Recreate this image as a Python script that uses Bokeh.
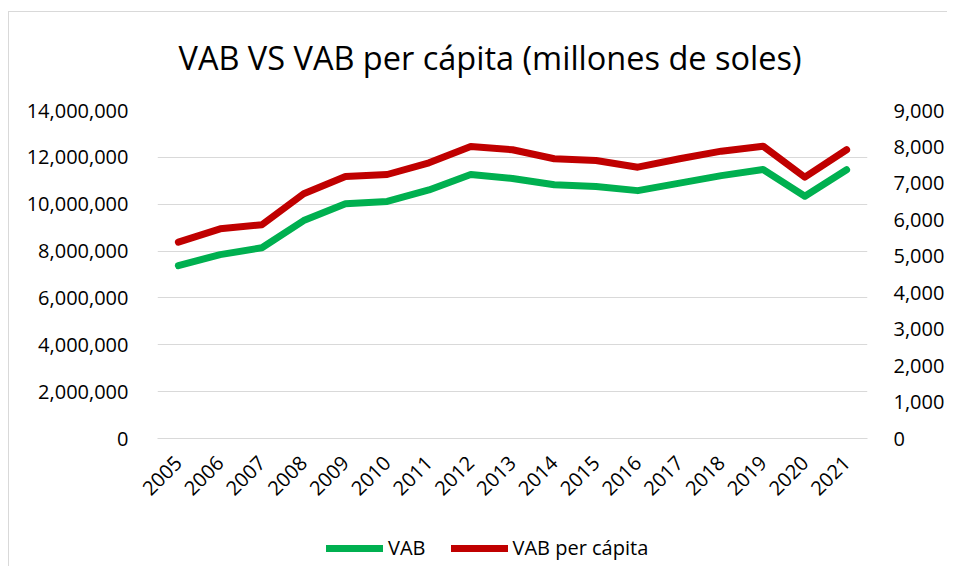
import math
from bokeh.plotting import figure
from bokeh.layouts import column
from bokeh.models import (Range1d, LinearAxis, FixedTicker, NumeralTickFormatter,
                          Legend, LegendItem, FactorRange, ColumnDataSource)
from bokeh.embed import file_html
from bokeh.resources import INLINE

years = [str(y) for y in range(2005, 2022)]
vab = [7380000, 7850000, 8140000, 9300000, 10020000, 10120000, 10610000, 11270000,
       11100000, 10830000, 10760000, 10580000, 10900000, 11220000, 11480000, 10340000, 11470000]
vab_per_capita = [5387, 5754, 5864, 6714, 7189, 7244, 7565, 8012,
                  7922, 7675, 7628, 7445, 7675, 7884, 8021, 7170, 7922]
left_ticks = [0, 2000000, 4000000, 6000000, 8000000, 10000000, 12000000, 14000000]
right_ticks = [0, 1000, 2000, 3000, 4000, 5000, 6000, 7000, 8000, 9000]
title_text = "VAB VS VAB per cápita (millones de soles)"
series_names = ["VAB", "VAB per cápita"]

FONT = "Open Sans"
GREEN = "#00B050"
RED = "#C00000"
GRID = "#d9d9d9"

src = ColumnDataSource(dict(year=years, vab=vab, pc=vab_per_capita))

# title strip
p0 = figure(width=938, height=86, x_range=FactorRange(*years, range_padding=0),
            y_range=Range1d(0, 1), x_axis_location=None, y_axis_location=None,
            min_border_left=148, min_border_right=73, min_border_top=67, min_border_bottom=0,
            output_backend="svg", toolbar_location=None)
p0.outline_line_color = None
p0.grid.visible = False
p0.title.text = title_text
p0.title.align = "left"
p0.title.offset = 21
p0.title.text_font = FONT
p0.title.text_font_size = "32.5px"
p0.title.text_font_style = "normal"
p0.title.text_color = "#000000"
p0.title.standoff = 0

# main chart
p = figure(width=938, height=422, x_range=p0.x_range,
           y_range=Range1d(left_ticks[0], left_ticks[-1]),
           output_backend="svg", toolbar_location=None,
           min_border_left=148, min_border_right=73, min_border_top=12, min_border_bottom=82)
p.extra_y_ranges = {"right": Range1d(right_ticks[0], right_ticks[-1])}
p.outline_line_color = None

ya = p.yaxis[0]
ya.ticker = FixedTicker(ticks=left_ticks)
ya.formatter = NumeralTickFormatter(format="0,0")

ra = LinearAxis(y_range_name="right", ticker=FixedTicker(ticks=right_ticks),
                formatter=NumeralTickFormatter(format="0,0"))
p.add_layout(ra, "right")

for ax in [ya, ra, p.xaxis[0]]:
    ax.axis_line_color = None
    ax.major_tick_line_color = None
    ax.minor_tick_line_color = None
    ax.major_label_text_font = FONT
    ax.major_label_text_font_size = "20px"
    ax.major_label_text_color = "#000000"
ya.major_label_standoff = 23
ra.major_label_standoff = 20

xa = p.xaxis[0]
xa.major_label_orientation = math.pi / 4
xa.major_label_standoff = 15
xa.axis_line_color = GRID
xa.axis_line_width = 1

p.xgrid.grid_line_color = None
p.ygrid.grid_line_color = GRID
p.ygrid.grid_line_width = 1.2

r1 = p.line("year", "vab", source=src, line_color=GREEN, line_width=7,
            line_cap="round", line_join="round")
r2 = p.line("year", "pc", source=src, y_range_name="right", line_color=RED, line_width=7,
            line_cap="round", line_join="round")

# legend strip below the chart (its series are drawn out of view; only the legend shows)
p2 = figure(width=938, height=46, x_range=p0.x_range, y_range=Range1d(-2, -1),
            x_axis_location=None, y_axis_location=None, min_border=0,
            output_backend="svg", toolbar_location=None)
p2.outline_line_color = None
p2.grid.visible = False
l1 = p2.line("year", "vab", source=src, line_color=GREEN, line_width=7, line_cap="round")
l2 = p2.line("year", "pc", source=src, line_color=RED, line_width=7, line_cap="round")
legend = Legend(items=[LegendItem(label=series_names[0], renderers=[l1]),
                       LegendItem(label=series_names[1], renderers=[l2])],
                orientation="horizontal", location=(169, 5),
                glyph_width=57, glyph_height=20, label_height=20, label_standoff=5, spacing=25,
                padding=0, margin=0, border_line_color=None, background_fill_alpha=0,
                label_text_font=FONT, label_text_font_size="20px", label_text_color="#000000")
p2.add_layout(legend, "center")

inner = column(p0, p, p2, spacing=0)
inner.styles = {"border-left": "1px solid #d9d9d9", "border-top": "1px solid #d9d9d9"}
outer = column(inner, spacing=0)
outer.styles = {"padding-left": "8px", "padding-top": "11px"}

open("out.html", "w").write(file_html(outer, INLINE))
